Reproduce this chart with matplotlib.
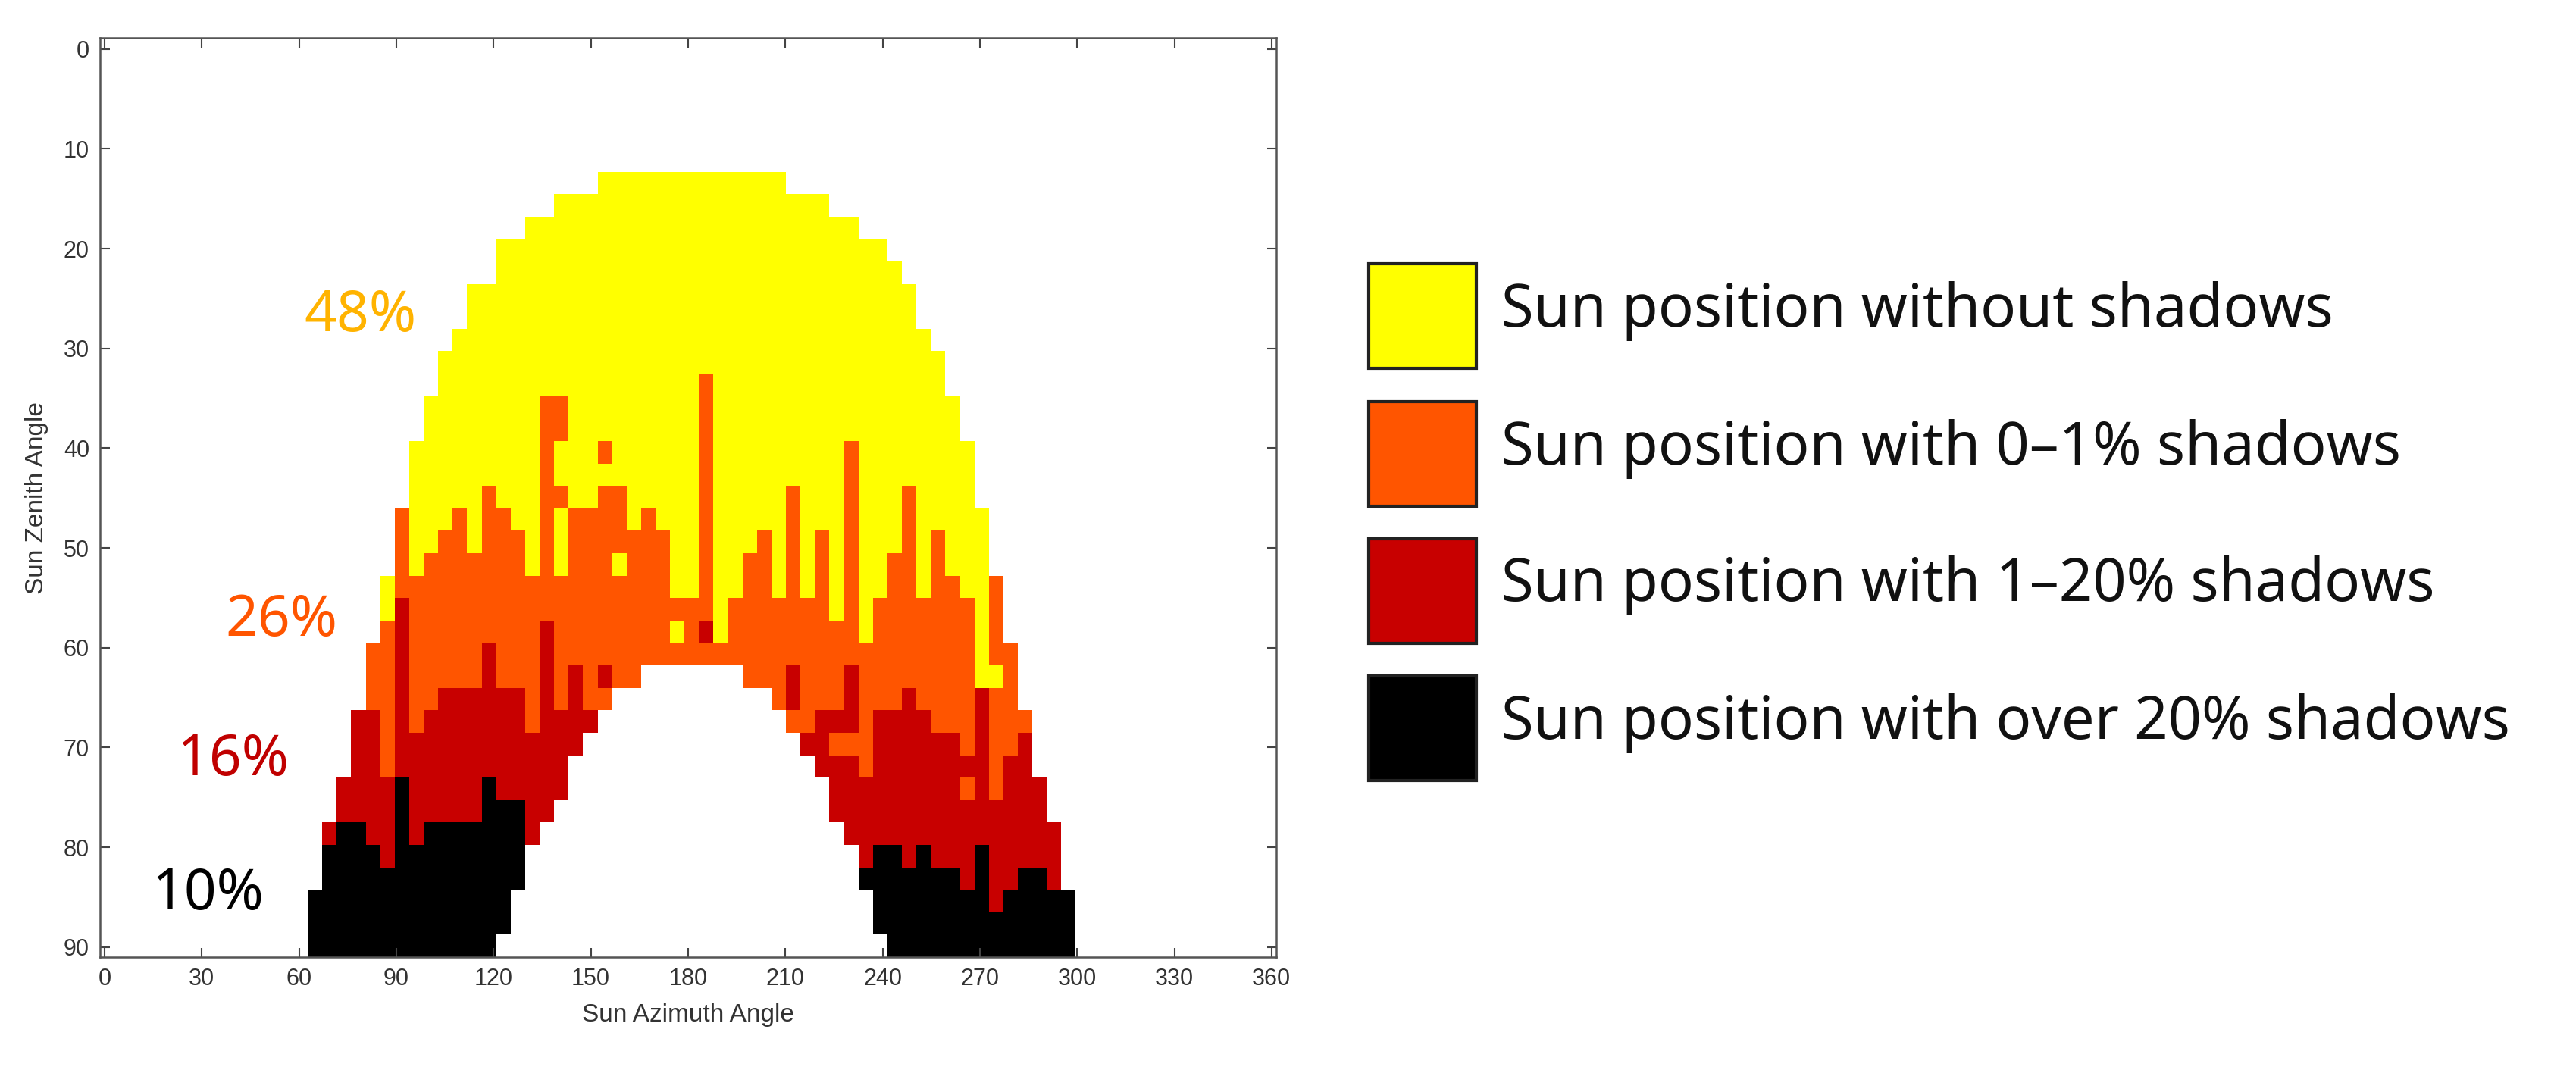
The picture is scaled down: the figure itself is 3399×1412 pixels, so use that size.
import numpy as np
import matplotlib
matplotlib.use("Agg")
import matplotlib.pyplot as plt
from matplotlib.colors import ListedColormap
from matplotlib.patches import Rectangle

# Grid geometry
AZ_EDGES = np.linspace(62.7, 299.6, 54)     # 53 azimuth columns
ZEN_EDGES = np.linspace(12.3, 91.0, 36)     # 35 zenith rows

# Per column: code+start_row tokens (Y yellow, O orange, R red, K black, W white)
COLUMN_SPECS = [
    "K32", "R29 K30", "R27 K29", "R24 K29", "O21 R24 K30", "Y18 O20 R27 K31",
    "O15 R19 K27", "Y12 O18 R25 K30", "Y10 O17 R24 K29", "Y8 O16 R23 K29",
    "Y7 O15 R23 K29", "Y5 O17 R23 K29", "Y5 O14 R21 K27", "Y3 O15 R23 K28 W34",
    "Y3 O16 R23 K28 W32", "Y2 O18 R25 W30", "Y2 O10 R20 W29",
    "Y1 O10 Y12 O14 Y15 O18 R24 W28", "Y1 O15 R22 W26", "Y1 O15 R24 W25",
    "Y0 O12 Y13 O14 R22 O23 W24", "Y0 O14 Y17 O18 W23", "Y0 O16 W23",
    "Y0 O15 W22", "Y0 O16 W22", "Y0 O19 Y20 O21 W22", "Y0 O19 W22",
    "Y0 O9 R20 O21 W22", "Y0 O21 W22", "Y0 O19 W22", "Y0 O17 W23",
    "Y0 O16 W23", "Y0 O19 W24", "Y1 O14 R22 O24 W25", "Y1 O19 R25 W26",
    "Y1 O16 R24 W27", "Y2 O20 R24 O25 R26 W29", "Y2 O12 R22 O25 R26 W30",
    "Y3 O21 R27 K31 W32", "Y3 O19 R24 K30 W34", "Y4 O17 R24 K30",
    "Y5 O14 R23 K31", "Y7 O19 R24 K30", "Y8 O16 R25 K31", "Y10 O18 R25 K31",
    "Y12 O19 R26 O27 R28 K32", "Y15 R23 K30", "O18 Y22 O23 R28 K33",
    "O21 R26 K32", "O24 R25 K31", "R27 K31", "R29 K32", "K32",
]

LEGEND_LABELS = ["Sun position without shadows",
                 "Sun position with 0\u20131% shadows",
                 "Sun position with 1\u201320% shadows",
                 "Sun position with over 20% shadows"]
PERCENTS = ["48%", "26%", "16%", "10%"]
PERCENT_POS = [(79, 26.8), (54.7, 57.3), (39.6, 71.3), (31.9, 84.7)]
COLORS = ["#FFFF00", "#FF5500", "#C80000", "#000000"]
PCT_COLORS = ["#FFB300", "#FF5500", "#C00000", "#000000"]
XTICKS = list(range(0, 361, 30))
YTICKS = list(range(0, 91, 10))

code_map = {"W": 0, "Y": 1, "O": 2, "R": 3, "K": 4}
nrows, ncols = len(ZEN_EDGES) - 1, len(AZ_EDGES) - 1
grid = np.zeros((nrows, ncols))
for c, spec in enumerate(COLUMN_SPECS):
    for tok in spec.split():
        grid[int(tok[1:]):, c] = code_map[tok[0]]
grid = np.ma.masked_equal(grid, 0)

fig = plt.figure(figsize=(33.99, 14.12), dpi=100)
ax = fig.add_axes([0.0388, 0.1055, 0.4566, 0.859])
cmap = ListedColormap(COLORS)
ax.pcolormesh(AZ_EDGES, ZEN_EDGES, grid, cmap=cmap, vmin=0.5, vmax=4.5)
ax.set_xlim(-1.4, 361.4)
ax.set_ylim(91.0, -1.1)
ax.set_xticks(XTICKS)
ax.set_yticks(YTICKS)
tfont = dict(family="Liberation Sans", size=22, color="#333333")
ax.set_xticklabels([str(t) for t in XTICKS], **tfont)
ax.set_yticklabels([str(t) for t in YTICKS], **tfont)
ax.tick_params(direction="in", top=True, right=True, length=9, width=1.5,
               color="#444444", pad=10)
for s in ax.spines.values():
    s.set_color("#555555")
    s.set_linewidth(1.8)
ax.set_xlabel("Sun Azimuth Angle", fontsize=24, family="Liberation Sans",
              color="#333333", labelpad=12)
ax.set_ylabel("Sun Zenith Angle", fontsize=24, family="Liberation Sans",
              color="#333333", labelpad=14)

for txt, (x, y), col in zip(PERCENTS, PERCENT_POS, PCT_COLORS):
    ax.text(x, y, txt, color=col, fontsize=54, family="Noto Sans",
            ha="center", va="center")

W, H = 3399, 1412
box_tops = [348, 530, 711, 892]
for top, lab, col in zip(box_tops, LEGEND_LABELS, COLORS):
    fig.patches.append(Rectangle((1806 / W, 1 - (top + 138) / H), 142 / W, 138 / H,
                                 transform=fig.transFigure, facecolor=col,
                                 edgecolor="#222222", linewidth=3))
    fig.text(1981 / W, 1 - (top + 62) / H, lab, fontsize=56, family="Noto Sans",
             va="center", ha="left", color="#111111")

fig.savefig("out.png", dpi=100)
